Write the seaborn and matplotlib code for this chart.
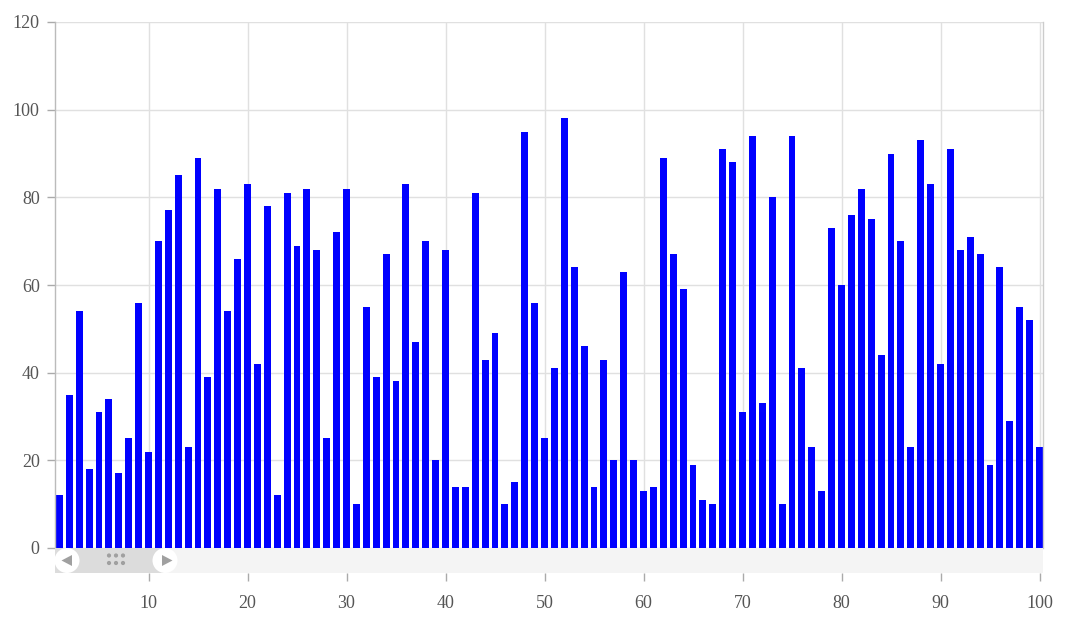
import matplotlib
matplotlib.use('Agg')
import matplotlib.pyplot as plt
from matplotlib.patches import Rectangle, Circle, Polygon
import seaborn as sns
import pandas as pd

indice = list(range(1, 101))
valores = [12, 35, 54, 18, 31, 34, 17, 25, 56, 22,
           70, 77, 85, 23, 89, 39, 82, 54, 66, 83,
           42, 78, 12, 81, 69, 82, 68, 25, 72, 82,
           10, 55, 39, 67, 38, 83, 47, 70, 20, 68,
           14, 14, 81, 43, 49, 10, 15, 95, 56, 25,
           41, 98, 64, 46, 14, 43, 20, 63, 20, 13,
           14, 89, 67, 59, 19, 11, 10, 91, 88, 31,
           94, 33, 80, 10, 94, 41, 23, 13, 73, 60,
           76, 82, 75, 44, 90, 70, 23, 93, 83, 42,
           91, 68, 71, 67, 19, 64, 29, 55, 52, 23]
x_ticks = list(range(10, 101, 10))
y_ticks = list(range(0, 121, 20))

sns.set_style('white')
plt.rcParams['font.family'] = ['Liberation Serif', 'DejaVu Serif']

df = pd.DataFrame({'idx': indice, 'valor': valores})

W, H = 1068, 633
fig = plt.figure(figsize=(W / 100, H / 100), dpi=100)
ax = fig.add_axes([55 / W, (H - 548) / H, 988 / W, 526 / H])

sns.barplot(data=df, x='idx', y='valor', native_scale=True, width=0.7,
            color='#0000ff', saturation=1, linewidth=0, ax=ax)

ax.set_xlim(0.555, 100.35)
ax.set_ylim(0, 120)
ax.set_xticks(x_ticks)
ax.set_yticks(y_ticks)
ax.set_xlabel('')
ax.set_ylabel('')
ax.grid(True, color='#e0e0e0', linewidth=1)
ax.set_axisbelow(True)

for s in ['top', 'bottom']:
    ax.spines[s].set_visible(False)
ax.spines['bottom'].set_position(('outward', 18))
ax.spines['left'].set_color('#bbbbbb')
ax.spines['right'].set_color('#cccccc')
ax.spines['left'].set_linewidth(1)
ax.spines['right'].set_linewidth(1)

ax.tick_params(axis='y', left=True, length=5.5, width=1, color='#aaaaaa',
               labelsize=13, labelcolor='#555555', pad=5.5)
ax.tick_params(axis='x', bottom=True, length=5.5, width=1, color='#aaaaaa',
               labelsize=13, labelcolor='#555555', pad=10.5)

# barra de zoom (slider) sob o gráfico
sl = fig.add_axes([55 / W, (H - 573) / H, 988 / W, 25 / H])
sl.set_xlim(0, 988)
sl.set_ylim(25, 0)
sl.axis('off')
sl.add_patch(Rectangle((0, 0), 988, 25, color='#f4f4f4', lw=0))
sl.add_patch(Rectangle((0, 0), 110, 25, color='#dcdcdc', lw=0))
sl.add_patch(Circle((12, 12.5), 12.5, color='white', lw=0))
sl.add_patch(Circle((110, 12.5), 12.5, color='white', lw=0))
sl.add_patch(Polygon([[6.5, 12.5], [17, 7], [17, 18]], color='#a0a0a0', lw=0))
sl.add_patch(Polygon([[117.5, 12.5], [107, 7], [107, 18]], color='#a0a0a0', lw=0))
for dx in [54, 61, 68]:
    for dy in [7.5, 15]:
        sl.add_patch(Circle((dx, dy), 2.1, color='#a0a0a0', lw=0))

fig.savefig('out.png', dpi=100)
